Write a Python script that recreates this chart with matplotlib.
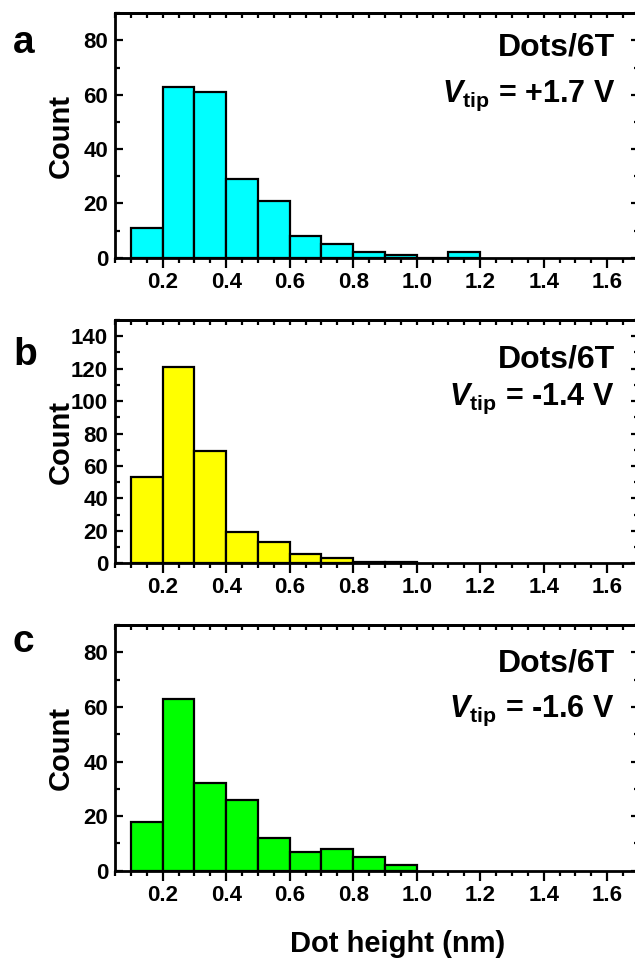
import matplotlib
matplotlib.use("Agg")
import matplotlib.pyplot as plt
from matplotlib.ticker import MultipleLocator

plt.rcParams["font.family"] = ["Liberation Sans", "DejaVu Sans"]
plt.rcParams["font.weight"] = "bold"
plt.rcParams["mathtext.fontset"] = "custom"
plt.rcParams["mathtext.rm"] = "Liberation Sans:bold"
plt.rcParams["mathtext.bf"] = "Liberation Sans:bold"
plt.rcParams["mathtext.it"] = "Liberation Sans:bold:italic"
plt.rcParams["mathtext.bfit"] = "Liberation Sans:bold:italic"

# histogram data: left edge of each 0.1 nm bin and the counts
bin_lefts_a = [0.1, 0.2, 0.3, 0.4, 0.5, 0.6, 0.7, 0.8, 0.9, 1.0, 1.1]
counts_a = [11, 63, 61, 29, 21, 8, 5, 2, 1, 0, 2]
bin_lefts_b = [0.1, 0.2, 0.3, 0.4, 0.5, 0.6, 0.7, 0.8, 0.9]
counts_b = [53, 121, 69, 19, 13, 6, 3, 1, 1]
bin_lefts_c = [0.1, 0.2, 0.3, 0.4, 0.5, 0.6, 0.7, 0.8, 0.9]
counts_c = [18, 63, 32, 26, 12, 7, 8, 5, 2]

panel_letters = ["a", "b", "c"]
bias_labels = ["+1.7 V", "-1.4 V", "-1.6 V"]
sample_label = "Dots/6T"
y_max = [90, 150, 90]
colors = ["#00FFFF", "#FFFF00", "#00FF00"]
x_ticks = [0.2, 0.4, 0.6, 0.8, 1.0, 1.2, 1.4, 1.6]

TICK_FONT = ["Liberation Sans Narrow", "Liberation Sans", "DejaVu Sans"]

W, H = 635, 959
fig = plt.figure(figsize=(W / 100, H / 100), dpi=100)

# axes boxes in pixels: (top, bottom)
boxes = [(13.3, 257.7), (320.0, 563.3), (625.0, 870.7)]
letter_base = [53, 365, 652]
dots_base = [55, 367, 671]
vtip_base = [102, 405, 717]
ax_left, ax_right = 115, 639

datasets = [(bin_lefts_a, counts_a), (bin_lefts_b, counts_b), (bin_lefts_c, counts_c)]

for i, (lefts, counts) in enumerate(datasets):
    top, bot = boxes[i]
    ax = fig.add_axes([ax_left / W, 1 - bot / H, (ax_right - ax_left) / W, (bot - top) / H])
    ax.bar(lefts, counts, width=0.1, align="edge", color=colors[i],
           edgecolor="black", linewidth=1.6, zorder=2)
    ax.set_xlim(0.05, 1.7)
    ax.set_ylim(0, y_max[i])
    ax.set_xticks(x_ticks)
    ax.set_xticklabels([f"{t:.1f}" for t in x_ticks])
    ax.xaxis.set_minor_locator(MultipleLocator(0.05))
    ax.yaxis.set_major_locator(MultipleLocator(20))
    ax.yaxis.set_minor_locator(MultipleLocator(10))
    for s in ax.spines.values():
        s.set_linewidth(2)
    ax.tick_params(axis="x", which="major", direction="out", length=7, width=1.6,
                   labelsize=16, pad=3)
    ax.tick_params(axis="x", which="minor", direction="out", length=3.6, width=1.6)
    ax.tick_params(axis="y", which="major", direction="in", length=6, width=1.6,
                   labelsize=16, pad=5)
    ax.tick_params(axis="y", which="minor", direction="in", length=3.6, width=1.6)
    for lab in ax.get_xticklabels() + ax.get_yticklabels():
        lab.set_fontweight("bold")
        lab.set_family(TICK_FONT)

    top_ax = ax.secondary_xaxis("top")
    top_ax.set_xticks(x_ticks)
    top_ax.xaxis.set_minor_locator(MultipleLocator(0.05))
    top_ax.tick_params(which="both", direction="in", length=3.6, width=1.6, labeltop=False)
    top_ax.spines["top"].set_linewidth(2)
    right_ax = ax.secondary_yaxis("right")
    right_ax.yaxis.set_major_locator(MultipleLocator(20))
    right_ax.yaxis.set_minor_locator(MultipleLocator(10))
    right_ax.tick_params(which="major", direction="in", length=6, width=1.6, labelright=False)
    right_ax.tick_params(which="minor", direction="in", length=3.6, width=1.6, labelright=False)

    fig.text(60.5 / W, 1 - (top + bot) / 2 / H, "Count", rotation=90,
             ha="center", va="center", fontsize=21, fontweight="bold")
    fig.text(13 / W, 1 - letter_base[i] / H, panel_letters[i], ha="left",
             va="baseline", fontsize=28, fontweight="bold")
    fig.text(615 / W, 1 - dots_base[i] / H, sample_label, ha="right",
             va="baseline", fontsize=23, fontweight="bold")
    fig.text(615 / W, 1 - vtip_base[i] / H,
             r"$\mathbfit{V}_{\mathbf{tip}}$" + " = " + bias_labels[i],
             ha="right", va="baseline", fontsize=22, fontweight="bold")

fig.text(398 / W, 1 - 952 / H, "Dot height (nm)", ha="center", va="baseline",
         fontsize=21, fontweight="bold")

fig.savefig("out.png", dpi=100)
